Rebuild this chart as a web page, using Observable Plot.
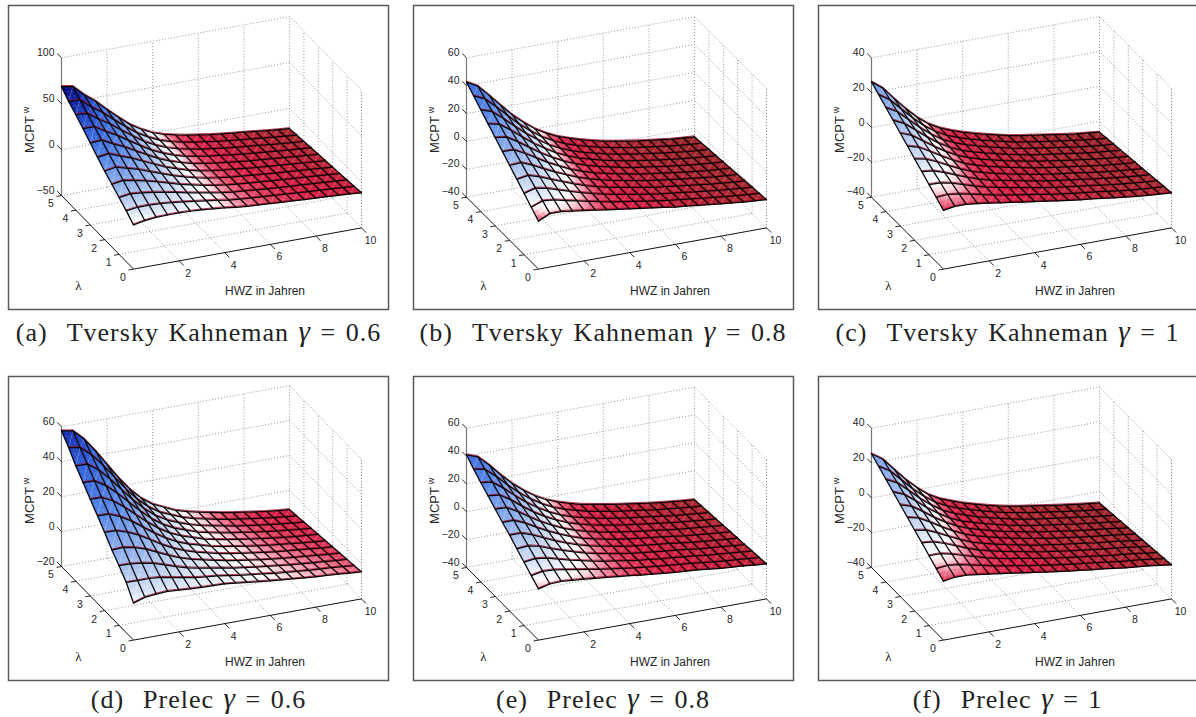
<!DOCTYPE html>
<html><head><meta charset="utf-8">
<script src="https://cdn.jsdelivr.net/npm/d3@7"></script>
<script src="https://cdn.jsdelivr.net/npm/@observablehq/plot@0.6"></script>
<style>
html,body{margin:0;padding:0;background:#fff;overflow:hidden;width:1196px;height:717px}
.p{position:absolute}
.c{position:absolute;text-align:center;font-family:"Liberation Serif",serif;font-size:26px;line-height:30px;color:#222;letter-spacing:1px;word-spacing:2px;white-space:nowrap}
.c i{font-size:1.12em}
</style></head><body><div id="root"></div>
<script>
const hwz=[0,.5,1,1.5,2,2.5,3,3.5,4,4.5,5,5.5,6,6.5,7,7.5,8,8.5,9,9.5,10];
const lambdas=[0,.5,1,1.5,2,2.5,3,3.5,4,4.5,5];
const hwzTicks=[2,4,6,8,10];
const lambdaTicks=[0,1,2,3,4,5];
const zTicksA=[-50,0,50,100], zTicksB=[-40,-20,0,20,40,60], zTicksC=[-40,-20,0,20,40], zTicksD=[-20,0,20,40,60];
const colorValues=[-27,-20,-13,-9,-6,-4,-2,0,5,15,30,45,55,68];
const colorStops=["#8e1c20","#a82028","#c41a36","#d81840","#e03a5a","#f07a94","#fbd0d8","#ffffff","#d6e2f5","#9cb8ec","#5587e8","#2f5fd8","#1836b8","#00087f"];
// each inner list: one HWZ value, from lambda 0 to lambda 5
const surfaceA=[
[-1.8,5.4,11.9,18.3,24.5,31.7,39.2,46.8,54,60.4,68.7],
[.5,7.1,13.7,20.3,26.9,33.5,40.1,46.7,53.3,59.9,66.5],
[1.8,7.2,12.5,17.9,23.2,28.6,33.9,39.3,44.6,50,55.3],
[2.2,6.6,10.9,15.3,19.7,24,28.4,32.8,37.2,41.5,45.9],
[2.2,5.4,8.7,11.9,15.2,18.4,21.6,24.9,28.1,31.4,34.6],
[1.8,4,6.2,8.5,10.7,12.9,15.1,17.3,19.6,21.8,24],
[1,2.3,3.6,4.9,6.2,7.5,8.8,10.1,11.4,12.7,14],
[0,.7,1.3,2,2.6,3.3,3.9,4.6,5.2,5.9,6.5],
[-1.2,-1,-.9,-.7,-.6,-.4,-.2,-.1,.1,.2,.4],
[-2.9,-3,-3,-3.1,-3.2,-3.3,-3.3,-3.4,-3.5,-3.5,-3.6],
[-4,-4.3,-4.5,-4.8,-5,-5.3,-5.5,-5.8,-6,-6.3,-6.5],
[-4.8,-5.2,-5.6,-6.1,-6.5,-6.9,-7.3,-7.7,-8.2,-8.6,-9],
[-5.6,-6.1,-6.6,-7.2,-7.7,-8.2,-8.7,-9.2,-9.8,-10.3,-10.8],
[-6.4,-7,-7.7,-8.3,-9,-9.6,-10.2,-10.9,-11.5,-12.2,-12.8],
[-7.1,-7.8,-8.6,-9.3,-10,-10.8,-11.5,-12.2,-12.9,-13.7,-14.4],
[-7.9,-8.7,-9.5,-10.3,-11.1,-11.9,-12.6,-13.4,-14.2,-15,-15.8],
[-8.6,-9.4,-10.3,-11.1,-12,-12.8,-13.6,-14.5,-15.3,-16.2,-17],
[-9.3,-10.2,-11.1,-12,-12.9,-13.9,-14.8,-15.7,-16.6,-17.5,-18.4],
[-10,-11,-12,-12.9,-13.9,-14.9,-15.9,-16.9,-17.8,-18.8,-19.8],
[-10.8,-11.8,-12.8,-13.9,-14.9,-15.9,-16.9,-17.9,-19,-20,-21],
[-11.8,-12.8,-13.8,-14.9,-15.9,-16.9,-17.9,-18.9,-20,-21,-22]];
const surfaceB=[
[-5.6,-.8,4,8.9,13.7,18.5,23.3,28.1,32.9,37.8,42.6],
[-1.7,2.3,6.3,10.3,14.3,18.3,22.2,26.2,30.2,34.2,38.2],
[-1.7,1.5,4.7,7.8,11,14.2,17.4,20.6,23.7,26.9,30.1],
[-2.8,-.4,2.1,4.5,6.9,9.4,11.8,14.2,16.6,19.1,21.5],
[-3.9,-2.2,-.5,1.3,3,4.7,6.4,8.1,9.9,11.6,13.3],
[-5.1,-4,-2.8,-1.7,-.5,.7,1.8,3,4.1,5.3,6.4],
[-6.3,-5.7,-5,-4.4,-3.7,-3.1,-2.4,-1.8,-1.1,-.5,.2],
[-7.5,-7.2,-6.9,-6.6,-6.3,-6,-5.6,-5.3,-5,-4.7,-4.4],
[-8.7,-8.6,-8.6,-8.6,-8.5,-8.5,-8.4,-8.4,-8.3,-8.3,-8.2],
[-9.8,-9.9,-10,-10.2,-10.3,-10.4,-10.5,-10.6,-10.8,-10.9,-11],
[-10.9,-11.2,-11.4,-11.7,-11.9,-12.2,-12.4,-12.7,-12.9,-13.2,-13.4],
[-12,-12.4,-12.7,-13.1,-13.4,-13.8,-14.2,-14.5,-14.9,-15.2,-15.6],
[-13.2,-13.6,-14.1,-14.5,-14.9,-15.4,-15.8,-16.2,-16.6,-17.1,-17.5],
[-14,-14.5,-15,-15.5,-16,-16.5,-17,-17.5,-18,-18.5,-19],
[-14.9,-15.5,-16,-16.6,-17.1,-17.7,-18.2,-18.8,-19.3,-19.9,-20.4],
[-15.9,-16.5,-17.1,-17.6,-18.2,-18.8,-19.4,-20,-20.5,-21.1,-21.7],
[-16.8,-17.4,-18,-18.6,-19.2,-19.8,-20.4,-21,-21.6,-22.2,-22.8],
[-17.7,-18.3,-18.9,-19.6,-20.2,-20.8,-21.4,-22,-22.7,-23.3,-23.9],
[-18.5,-19.1,-19.8,-20.4,-21.1,-21.7,-22.3,-23,-23.6,-24.3,-24.9],
[-19.1,-19.8,-20.4,-21.1,-21.7,-22.4,-23,-23.7,-24.3,-25,-25.6],
[-19.7,-20.4,-21,-21.7,-22.3,-23,-23.6,-24.3,-24.9,-25.6,-26.2]];
const surfaceC=[
[-6.3,-3,.2,3.5,6.7,10,13.2,16.5,19.7,23,26.2],
[-5.2,-2.5,.1,2.8,5.4,8.1,10.8,13.4,16.1,18.7,21.4],
[-5.2,-3.3,-1.3,.6,2.6,4.5,6.4,8.4,10.3,12.3,14.2],
[-6,-4.7,-3.3,-2,-.7,.7,2,3.3,4.6,6,7.3],
[-6.9,-6.1,-5.3,-4.5,-3.7,-2.9,-2.1,-1.3,-.5,.3,1.1],
[-7.9,-7.5,-7.1,-6.7,-6.3,-5.9,-5.4,-5,-4.6,-4.2,-3.8],
[-8.8,-8.7,-8.5,-8.4,-8.2,-8.1,-7.9,-7.8,-7.6,-7.5,-7.3],
[-9.8,-9.8,-9.8,-9.8,-9.8,-9.9,-9.9,-9.9,-9.9,-9.9,-9.9],
[-10.7,-10.8,-11,-11.1,-11.3,-11.4,-11.5,-11.7,-11.8,-12,-12.1],
[-11.7,-11.9,-12.2,-12.4,-12.6,-12.9,-13.1,-13.3,-13.5,-13.8,-14],
[-12.7,-13,-13.3,-13.6,-13.9,-14.2,-14.5,-14.8,-15.1,-15.4,-15.7],
[-13.6,-14,-14.3,-14.7,-15.1,-15.5,-15.8,-16.2,-16.6,-16.9,-17.3],
[-14.4,-14.8,-15.3,-15.7,-16.2,-16.6,-17,-17.5,-17.9,-18.4,-18.8],
[-15.1,-15.6,-16.1,-16.6,-17.1,-17.6,-18,-18.5,-19,-19.5,-20],
[-15.9,-16.4,-16.9,-17.4,-17.9,-18.5,-19,-19.5,-20,-20.5,-21],
[-16.8,-17.3,-17.8,-18.4,-18.9,-19.4,-19.9,-20.4,-21,-21.5,-22],
[-17.6,-18.1,-18.7,-19.2,-19.8,-20.3,-20.8,-21.4,-21.9,-22.5,-23],
[-18.3,-18.9,-19.4,-20,-20.6,-21.2,-21.7,-22.3,-22.9,-23.4,-24],
[-18.9,-19.5,-20.1,-20.7,-21.3,-21.9,-22.5,-23.1,-23.7,-24.3,-24.9],
[-19.4,-20,-20.6,-21.3,-21.9,-22.5,-23.1,-23.7,-24.4,-25,-25.6],
[-19.9,-20.5,-21.2,-21.8,-22.5,-23.1,-23.7,-24.4,-25,-25.7,-26.3]];
const surfaceD=[
[1.2,8.8,14.2,18.9,24.8,30.1,35.3,40.7,46,52.3,57.7],
[3.3,8.6,14,19.3,24.6,29.9,35.2,40.5,45.9,51.2,56.5],
[4,8.7,13.3,18,22.6,27.3,32,36.6,41.3,45.9,50.6],
[4.4,8.2,12,15.9,19.7,23.5,27.3,31.1,35,38.8,42.6],
[3.9,6.9,9.9,12.9,15.9,18.9,21.8,24.8,27.8,30.8,33.8],
[3.5,5.7,7.8,10,12.1,14.3,16.4,18.6,20.7,22.9,25],
[3.1,4.5,5.9,7.3,8.7,10.2,11.6,13,14.4,15.8,17.2],
[2.9,3.7,4.5,5.3,6.1,6.9,7.7,8.5,9.3,10.1,10.9],
[2.7,3.1,3.4,3.8,4.1,4.5,4.9,5.2,5.6,5.9,6.3],
[2,2.1,2.3,2.4,2.5,2.7,2.8,2.9,3,3.2,3.3],
[1.2,1.1,1,1,.9,.8,.7,.6,.6,.5,.4],
[.5,.3,.1,-.1,-.3,-.5,-.7,-.9,-1.1,-1.3,-1.5],
[-.2,-.5,-.8,-1,-1.3,-1.6,-1.9,-2.2,-2.4,-2.7,-3],
[-.9,-1.3,-1.6,-2,-2.3,-2.7,-3,-3.4,-3.7,-4.1,-4.4],
[-1.5,-1.9,-2.3,-2.8,-3.2,-3.6,-4,-4.4,-4.9,-5.3,-5.7],
[-2.1,-2.6,-3,-3.5,-4,-4.5,-4.9,-5.4,-5.9,-6.3,-6.8],
[-2.6,-3.1,-3.6,-4.2,-4.7,-5.2,-5.7,-6.2,-6.8,-7.3,-7.8],
[-3,-3.6,-4.2,-4.7,-5.3,-5.9,-6.5,-7.1,-7.6,-8.2,-8.8],
[-3.4,-4,-4.7,-5.3,-5.9,-6.6,-7.2,-7.8,-8.4,-9.1,-9.7],
[-4,-4.6,-5.3,-5.9,-6.6,-7.2,-7.8,-8.5,-9.1,-9.8,-10.4],
[-4.5,-5.2,-5.8,-6.5,-7.1,-7.8,-8.4,-9.1,-9.7,-10.4,-11]];
const surfaceE=[
[-3.2,1.1,5.5,9.8,14.5,18.4,22.7,27,31.3,35.8,40.9],
[-1.2,2.7,6.6,10.6,14.5,18.4,22.3,26.2,30.2,34.1,38],
[-.8,2.3,5.5,8.6,11.8,14.9,18,21.2,24.3,27.5,30.6],
[-1.5,.9,3.2,5.6,8,10.4,12.7,15.1,17.5,19.8,22.2],
[-2.2,-.5,1.1,2.8,4.5,6.2,7.8,9.5,11.2,12.8,14.5],
[-3,-1.9,-.8,.3,1.4,2.6,3.7,4.8,5.9,7,8.1],
[-3.9,-3.3,-2.6,-2,-1.3,-.7,0,.7,1.3,2,2.6],
[-4.8,-4.5,-4.2,-3.9,-3.6,-3.3,-2.9,-2.6,-2.3,-2,-1.7],
[-5.6,-5.5,-5.4,-5.4,-5.3,-5.2,-5.1,-5,-5,-4.9,-4.8],
[-6.6,-6.7,-6.7,-6.8,-6.8,-6.9,-7,-7,-7.1,-7.1,-7.2],
[-7.5,-7.7,-7.9,-8.1,-8.3,-8.5,-8.6,-8.8,-9,-9.2,-9.4],
[-8.3,-8.6,-8.8,-9.1,-9.4,-9.7,-9.9,-10.2,-10.5,-10.7,-11],
[-9.1,-9.4,-9.8,-10.1,-10.5,-10.8,-11.1,-11.5,-11.8,-12.2,-12.5],
[-9.7,-10.1,-10.5,-11,-11.4,-11.8,-12.2,-12.6,-13.1,-13.5,-13.9],
[-10.3,-10.8,-11.3,-11.7,-12.2,-12.7,-13.2,-13.7,-14.1,-14.6,-15.1],
[-11.2,-11.7,-12.2,-12.7,-13.2,-13.8,-14.3,-14.8,-15.3,-15.8,-16.3],
[-12.2,-12.7,-13.3,-13.8,-14.3,-14.9,-15.4,-15.9,-16.4,-17,-17.5],
[-12.8,-13.4,-13.9,-14.5,-15.1,-15.7,-16.2,-16.8,-17.4,-17.9,-18.5],
[-13.4,-14,-14.6,-15.2,-15.8,-16.4,-17,-17.6,-18.2,-18.8,-19.4],
[-14.2,-14.8,-15.4,-16,-16.6,-17.2,-17.8,-18.4,-19,-19.6,-20.2],
[-14.9,-15.5,-16.1,-16.7,-17.3,-17.9,-18.5,-19.1,-19.7,-20.3,-20.9]];
const surfaceF=[
[-6.2,-3.1,.1,3.3,6.4,9.6,12.7,15.9,19,22.2,25.3],
[-5.1,-2.5,.1,2.7,5.3,8,10.6,13.2,15.8,18.4,21],
[-5.1,-3.2,-1.3,.6,2.5,4.5,6.4,8.3,10.2,12.1,14],
[-5.9,-4.6,-3.3,-2,-.7,.6,1.8,3.1,4.4,5.7,7],
[-6.8,-6,-5.2,-4.5,-3.7,-2.9,-2.1,-1.3,-.6,.2,1],
[-7.8,-7.4,-7,-6.7,-6.3,-5.9,-5.5,-5.1,-4.8,-4.4,-4],
[-8.7,-8.6,-8.5,-8.3,-8.2,-8.1,-8,-7.9,-7.7,-7.6,-7.5],
[-9.7,-9.7,-9.8,-9.8,-9.8,-9.9,-9.9,-9.9,-9.9,-10,-10],
[-10.6,-10.8,-10.9,-11.1,-11.3,-11.5,-11.6,-11.8,-12,-12.1,-12.3],
[-11.6,-11.9,-12.1,-12.4,-12.6,-12.9,-13.2,-13.4,-13.7,-13.9,-14.2],
[-12.5,-12.9,-13.2,-13.6,-13.9,-14.3,-14.6,-15,-15.3,-15.7,-16],
[-13.4,-13.8,-14.2,-14.7,-15.1,-15.5,-15.9,-16.3,-16.8,-17.2,-17.6],
[-14.2,-14.7,-15.2,-15.6,-16.1,-16.6,-17.1,-17.6,-18.1,-18.5,-19],
[-15,-15.5,-16,-16.6,-17.1,-17.6,-18.1,-18.6,-19.2,-19.7,-20.2],
[-15.7,-16.3,-16.8,-17.4,-17.9,-18.5,-19,-19.6,-20.1,-20.7,-21.2],
[-16.6,-17.2,-17.7,-18.3,-18.8,-19.4,-20,-20.5,-21.1,-21.6,-22.2],
[-17.4,-18,-18.6,-19.1,-19.7,-20.3,-20.9,-21.5,-22,-22.6,-23.2],
[-18,-18.6,-19.2,-19.8,-20.4,-21.1,-21.7,-22.3,-22.9,-23.5,-24.1],
[-18.7,-19.3,-20,-20.6,-21.2,-21.9,-22.5,-23.1,-23.7,-24.4,-25],
[-19.6,-20.2,-20.8,-21.5,-22.1,-22.7,-23.3,-23.9,-24.6,-25.2,-25.8],
[-20.5,-21.1,-21.7,-22.3,-22.9,-23.6,-24.2,-24.8,-25.4,-26,-26.6]];

const captions=["(a)  Tversky Kahneman <i>γ</i> = 0.6","(b)  Tversky Kahneman <i>γ</i> = 0.8","(c)  Tversky Kahneman <i>γ</i> = 1","(d)  Prelec <i>γ</i> = 0.6","(e)  Prelec <i>γ</i> = 0.8","(f)  Prelec <i>γ</i> = 1"];
const surfaces=[surfaceA,surfaceB,surfaceC,surfaceD,surfaceE,surfaceF];
const zTickSets=[zTicksA,zTicksB,zTicksC,zTicksD,zTicksB,zTicksC];

// page layout of each panel
const W=380,H=304,M=2;
const layout=[
 {left:8,top:5,floorY:190,ceilY:52.3,capX:198.5,capY:331},
 {left:413,top:5,floorY:191.7,ceilY:52.3,capX:603,capY:331},
 {left:817.7,top:5,floorY:191.7,ceilY:52.3,capX:1007.5,capY:331},
 {left:8,top:376,floorY:190,ceilY:50.3,capX:198.5,capY:698},
 {left:413,top:376,floorY:191,ceilY:51.7,capX:603,capY:698},
 {left:817.7,top:376,floorY:191,ceilY:51.7,capX:1007.5,capY:698}];

const font='"Liberation Sans",sans-serif';
const root=document.getElementById("root");

surfaces.forEach((surf,pi)=>{
  const L=layout[pi], zt=zTickSets[pi];
  const zmin=zt[0], zmax=zt[zt.length-1];
  const ox=125, oy=263.6;
  const hx=22.8, hy=-4.12, lx=-14.4, ly=(L.floorY-oy)/5, zs=(L.floorY-L.ceilY)/(zmax-zmin);
  const X=(h,l)=>ox+h*hx+l*lx;
  const Y=(h,l,z)=>oy+h*hy+l*ly-(z-zmin)*zs;
  const seg=(a,b)=>({x1:X(a[0],a[1]),y1:Y(a[0],a[1],a[2]),x2:X(b[0],b[1]),y2:Y(b[0],b[1],b[2])});

  // dotted box grid
  const grid=[];
  for(const h of hwzTicks){grid.push(seg([h,0,zmin],[h,5,zmin]));grid.push(seg([h,5,zmin],[h,5,zmax]));}
  grid.push(seg([10,0,zmin],[10,0,zmax]));
  for(const l of lambdaTicks){
    if(l>0)grid.push(seg([0,l,zmin],[10,l,zmin]));
    if(l<5)grid.push(seg([10,l,zmin],[10,l,zmax]));
  }
  for(const z of zt){ if(z===zmin)continue; grid.push(seg([0,5,z],[10,5,z]));grid.push(seg([10,0,z],[10,5,z])); }

  const zAxis=[seg([0,5,zmin],[0,5,zmax])];
  const floorAxes=[seg([0,0,zmin],[0,5,zmin]),seg([0,0,zmin],[10,0,zmin])];
  const ticks=[
    ...zt.map(z=>seg([0,5,z],[0,5.3,z])),
    ...lambdaTicks.map(l=>seg([0,l,zmin],[-.22,l,zmin])),
    ...hwzTicks.map(h=>seg([h,0,zmin],[h,-.32,zmin]))];

  // shaded facets, far to near
  const facets=[]; const n=3; let id=0;
  const bil=(i,j,u,w)=>{
    const a=surf[i][j],b=surf[i+1][j],c=surf[i][j+1],d=surf[i+1][j+1];
    return a*(1-u)*(1-w)+b*u*(1-w)+c*(1-u)*w+d*u*w;
  };
  for(let j=lambdas.length-2;j>=0;j--)for(let i=hwz.length-2;i>=0;i--){
    const dh=hwz[i+1]-hwz[i],dl=lambdas[j+1]-lambdas[j];
    for(let s=n-1;s>=0;s--)for(let t=n-1;t>=0;t--){
      const c=[[t,s],[t+1,s],[t+1,s+1],[t,s+1]].map(([a,b])=>[a/n,b/n]);
      const v=d3.mean(c,([u,w])=>bil(i,j,u,w));
      id++;
      for(const [u,w] of c){
        const hh=hwz[i]+u*dh,ll=lambdas[j]+w*dl;
        facets.push({id,v,x:X(hh,ll),y:Y(hh,ll,bil(i,j,u,w))});
      }
    }
  }
  // mesh lines
  const rows=[],cols=[],diag=[];
  lambdas.forEach((l,j)=>hwz.forEach((h,i)=>{
    rows.push({k:j,x:X(h,l),y:Y(h,l,surf[i][j])});
    cols.push({k:i,x:X(h,l),y:Y(h,l,surf[i][j])});
    if(i<hwz.length-1&&j<lambdas.length-1) diag.push(seg([h,l,surf[i][j]],[hwz[i+1],lambdas[j+1],surf[i+1][j+1]]));
  }));

  const txt={fontFamily:font,fill:"#262626",fontSize:10.5};
  const lbl={frameAnchor:"top-left",lineAnchor:"middle",textAnchor:"middle"};
  const plot=Plot.plot({
    width:W+2*M,height:H+2*M,marginLeft:M,marginRight:M,marginTop:M,marginBottom:M,
    style:{background:"none",overflow:"visible"},
    x:{domain:[0,W],axis:null},y:{domain:[0,H],reverse:true,axis:null},
    color:{type:"linear",domain:colorValues,range:colorStops,clamp:true,interpolate:"rgb"},
    marks:[
      Plot.frame({stroke:"#5a5a5a",strokeWidth:1.5}),
      Plot.link(grid,{x1:"x1",y1:"y1",x2:"x2",y2:"y2",stroke:"#8c8c8c",strokeWidth:.9,strokeDasharray:"1,2"}),
      Plot.link(zAxis,{x1:"x1",y1:"y1",x2:"x2",y2:"y2",stroke:"#777",strokeWidth:1.2}),
      Plot.link(floorAxes,{x1:"x1",y1:"y1",x2:"x2",y2:"y2",stroke:"#111",strokeWidth:1}),
      Plot.link(ticks,{x1:"x1",y1:"y1",x2:"x2",y2:"y2",stroke:"#111",strokeWidth:.9}),
      Plot.line(facets,{x:"x",y:"y",z:"id",fill:"v",stroke:"v",strokeWidth:.4,curve:"linear-closed"}),
      Plot.link(diag,{x1:"x1",y1:"y1",x2:"x2",y2:"y2",stroke:"#fff",strokeOpacity:.45,strokeWidth:.55}),
      Plot.line(rows,{x:"x",y:"y",z:"k",stroke:"#b01030",strokeWidth:1,dy:-1,strokeOpacity:.85}),
      Plot.line(rows,{x:"x",y:"y",z:"k",stroke:"#050505",strokeWidth:1.25}),
      Plot.line(cols,{x:"x",y:"y",z:"k",stroke:"#050505",strokeWidth:1.25}),
      Plot.text(zt,{x:()=>X(0,5),y:z=>Y(0,5,z),text:z=>String(z).replace("-","\u2212"),textAnchor:"end",dx:-7,dy:-5.2,...txt}),
      Plot.text(lambdaTicks,{x:l=>X(0,l),y:l=>Y(0,l,zmin),text:String,dx:-10.5,dy:8.5,...txt}),
      Plot.text(hwzTicks,{x:h=>X(h,0),y:h=>Y(h,0,zmin),text:String,dx:9,dy:12.7,...txt}),
      Plot.text(["HWZ in Jahren"],{...lbl,dx:256.5,dy:286,...txt,fontSize:12}),
      Plot.text(["λ"],{...lbl,dx:70,dy:280,...txt,fontFamily:'"Liberation Serif",serif',fontSize:13}),
      Plot.text(["MCPT"],{...lbl,dx:21.3,dy:129,rotate:-90,...txt,fontSize:13}),
      Plot.text(["w"],{...lbl,dx:18,dy:104.5,rotate:-90,...txt,fontSize:9})
    ]
  });
  const d=document.createElement("div");
  d.className="p";
  d.style.cssText=`left:${L.left-M}px;top:${L.top-M}px;width:${W+2*M}px;height:${H+2*M}px`;
  d.appendChild(plot);
  root.appendChild(d);
  const c=document.createElement("div");
  c.className="c";
  c.innerHTML=captions[pi].replace("  ","&nbsp;&nbsp;");
  c.style.cssText=`left:${L.capX}px;top:${L.capY-15}px;transform:translateX(-50%)`;
  root.appendChild(c);
});
</script></body></html>
